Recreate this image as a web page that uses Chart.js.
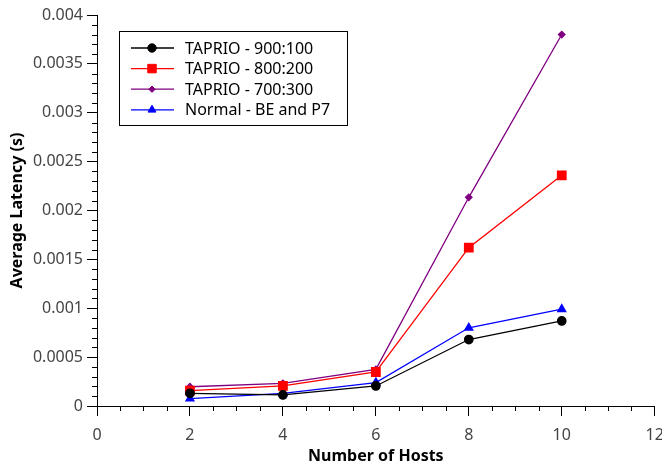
<!DOCTYPE html>
<html>
<head>
<meta charset="utf-8">
<script src="https://cdn.jsdelivr.net/npm/chart.js@4"></script>
<style>
  html, body { margin: 0; padding: 0; background: #fff; }
  #wrap { width: 662px; height: 466px; }
</style>
</head>
<body>
<div id="wrap"><canvas id="latencyChart" width="662" height="466"></canvas></div>
<script>
// number of hosts on the x axis
const hosts = [2, 4, 6, 8, 10];

// average latency in seconds
const tap900 = [0.00013, 0.000113, 0.000205, 0.00068, 0.00087];
const tap800 = [0.000157, 0.000205, 0.000348, 0.00162, 0.00236];
const tap700 = [0.000197, 0.000232, 0.000375, 0.002135, 0.0038];
const normal = [0.000075, 0.00013, 0.00024, 0.0008, 0.00099];

const seriesNames = ['TAPRIO - 900:100', 'TAPRIO - 800:200', 'TAPRIO - 700:300', 'Normal - BE and P7'];

const FONT = "'Noto Sans', 'Open Sans', sans-serif";

const toPoints = (vals) => hosts.map((h, i) => ({ x: h, y: vals[i] }));

// draws the small in-between ticks on both axes
const minorTicks = {
    id: 'minorTicks',
    afterDraw(chart) {
        const ctx = chart.ctx;
        const xs = chart.scales.x;
        const ys = chart.scales.y;
        ctx.save();
        ctx.strokeStyle = '#000';
        ctx.lineWidth = 1;
        ctx.beginPath();
        for (let v = 0; v <= 12.001; v += 0.5) {
            if (Math.abs(v / 2 - Math.round(v / 2)) < 1e-6) continue;
            const px = Math.round(xs.getPixelForValue(v)) + 0.5;
            ctx.moveTo(px, xs.top);
            ctx.lineTo(px, xs.top + 5);
        }
        for (let i = 0; i <= 40; i++) {
            if (i % 5 === 0) continue;
            const py = Math.round(ys.getPixelForValue(i * 0.0001)) + 0.5;
            ctx.moveTo(ys.right - 5, py);
            ctx.lineTo(ys.right, py);
        }
        ctx.stroke();
        ctx.restore();
    }
};

// boxed legend inside the plot, top left
const boxLegend = {
    id: 'boxLegend',
    afterDraw(chart) {
        const ctx = chart.ctx;
        const x0 = 119, y0 = 31, w = 228, h = 94;
        ctx.save();
        ctx.fillStyle = '#fff';
        ctx.fillRect(x0, y0, w, h);
        ctx.strokeStyle = '#000';
        ctx.lineWidth = 1;
        ctx.strokeRect(x0 + 0.5, y0 + 0.5, w, h);
        chart.data.datasets.forEach((ds, i) => {
            const cy = 48 + i * 20.6;
            ctx.strokeStyle = ds.borderColor;
            ctx.lineWidth = ds.borderWidth;
            ctx.beginPath();
            ctx.moveTo(131, cy);
            ctx.lineTo(174, cy);
            ctx.stroke();
            ctx.fillStyle = ds.backgroundColor;
            ctx.lineWidth = 1;
            Chart.helpers.drawPoint(ctx, {
                pointStyle: ds.pointStyle,
                radius: ds.pointRadius,
                rotation: 0,
                borderWidth: 1
            }, 152, cy);
            ctx.fillStyle = '#000';
            ctx.font = '16px ' + FONT;
            ctx.textBaseline = 'middle';
            ctx.fillText(ds.label, 185, cy + 1);
        });
        ctx.restore();
    }
};

function makeSet(label, vals, color, style, radius) {
    return {
        label: label,
        data: toPoints(vals),
        borderColor: color,
        backgroundColor: color,
        pointBackgroundColor: color,
        pointBorderColor: color,
        borderWidth: 1.3,
        pointStyle: style,
        pointRadius: radius,
        pointHoverRadius: radius,
        tension: 0
    };
}

new Chart(document.getElementById('latencyChart').getContext('2d'), {
    type: 'line',
    data: {
        datasets: [
            makeSet(seriesNames[0], tap900, '#000000', 'circle', 4.2),
            makeSet(seriesNames[1], tap800, '#ff0000', 'rect', 6),
            makeSet(seriesNames[2], tap700, '#800080', 'rectRot', 3.2),
            makeSet(seriesNames[3], normal, '#0000ff', 'triangle', 4.6)
        ]
    },
    options: {
        responsive: false,
        animation: false,
        layout: { padding: { top: 15, right: 7, left: 0, bottom: 0 } },
        plugins: {
            legend: { display: false },
            tooltip: { enabled: false }
        },
        scales: {
            x: {
                type: 'linear',
                min: 0,
                max: 12,
                ticks: {
                    stepSize: 2,
                    color: '#444',
                    font: { family: FONT, size: 16 },
                    padding: 10,
                    maxRotation: 0
                },
                grid: { drawOnChartArea: false, tickLength: 10, color: '#000', tickColor: '#000' },
                border: { color: '#000', width: 1 },
                title: {
                    display: true,
                    text: 'Number of Hosts',
                    color: '#000',
                    font: { family: FONT, size: 16, weight: 'bold' },
                    padding: { top: 0, bottom: 0 }
                },
                afterFit(scale) {
                    scale.height = 60;
                    scale.paddingLeft = 0;
                    scale.paddingRight = 0;
                }
            },
            y: {
                type: 'linear',
                min: 0,
                max: 0.004,
                ticks: {
                    stepSize: 0.0005,
                    color: '#444',
                    font: { family: FONT, size: 16 },
                    padding: 4,
                    callback: (v) => String(parseFloat(v.toFixed(4)))
                },
                grid: { drawOnChartArea: false, tickLength: 10, color: '#000', tickColor: '#000' },
                border: { color: '#000', width: 1 },
                title: {
                    display: true,
                    text: 'Average Latency (s)',
                    color: '#000',
                    font: { family: FONT, size: 16, weight: 'bold' },
                    padding: { top: 8, bottom: 4 }
                },
                afterFit(scale) {
                    scale.width = 97;
                    scale.paddingTop = 0;
                    scale.paddingBottom = 0;
                }
            }
        }
    },
    plugins: [minorTicks, boxLegend]
});
</script>
</body>
</html>
